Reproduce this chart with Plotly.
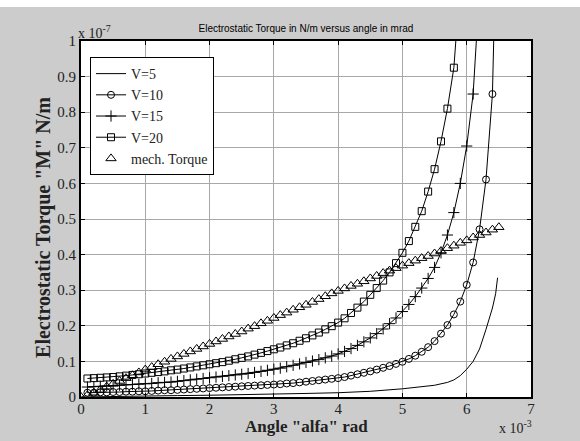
import plotly.graph_objects as go

# ---- data (angle in 1e-3 rad, torque in 1e-7 N/m) ----
v5_angle = [0.0, 0.5, 1.0, 1.5, 2.0, 2.5, 3.0, 3.5, 4.0, 4.5, 5.0, 5.3, 5.5, 5.7, 5.8, 5.9,
            6.0, 6.1, 6.2, 6.3, 6.4, 6.45, 6.48]
v5_torque = [0.0, 0.002, 0.003, 0.004, 0.005, 0.006, 0.008, 0.010, 0.012, 0.016, 0.023, 0.028,
             0.033, 0.041, 0.048, 0.060, 0.078, 0.100, 0.135, 0.190, 0.250, 0.290, 0.335]

v10_angle = [0.1, 0.2, 0.3, 0.4, 0.5, 0.6, 0.7, 0.8, 0.9, 1.0, 1.1, 1.2, 1.3, 1.4, 1.5, 1.6, 1.7,
             1.8, 1.9, 2.0, 2.1, 2.2, 2.3, 2.4, 2.5, 2.6, 2.7, 2.8, 2.9, 3.0, 3.1, 3.2, 3.3, 3.4,
             3.5, 3.6, 3.7, 3.8, 3.9, 4.0, 4.1, 4.2, 4.3, 4.4, 4.5, 4.6, 4.7, 4.8, 4.9, 5.0, 5.1,
             5.2, 5.3, 5.4, 5.5, 5.6, 5.7, 5.8, 5.9, 6.0, 6.1, 6.2, 6.3, 6.4, 6.5]
v10_torque = [0.012, 0.012, 0.013, 0.013, 0.014, 0.014, 0.015, 0.015, 0.016, 0.016, 0.017, 0.018,
              0.019, 0.019, 0.020, 0.021, 0.022, 0.023, 0.024, 0.025, 0.026, 0.027, 0.028, 0.029,
              0.030, 0.031, 0.032, 0.033, 0.034, 0.035, 0.036, 0.038, 0.039, 0.041, 0.043, 0.045,
              0.047, 0.049, 0.051, 0.053, 0.056, 0.060, 0.064, 0.068, 0.072, 0.077, 0.082, 0.087,
              0.093, 0.099, 0.107, 0.116, 0.127, 0.140, 0.157, 0.178, 0.202, 0.232, 0.268, 0.315,
              0.378, 0.471, 0.611, 0.851, 1.600]

v15_angle = [0.1, 0.2, 0.3, 0.4, 0.5, 0.6, 0.7, 0.8, 0.9, 1.0, 1.1, 1.2, 1.3, 1.4, 1.5, 1.6, 1.7,
             1.8, 1.9, 2.0, 2.1, 2.2, 2.3, 2.4, 2.5, 2.6, 2.7, 2.8, 2.9, 3.0, 3.1, 3.2, 3.3, 3.4,
             3.5, 3.6, 3.7, 3.8, 3.9, 4.0, 4.1, 4.2, 4.3, 4.4, 4.5, 4.6, 4.7, 4.8, 4.9, 5.0, 5.1,
             5.2, 5.3, 5.4, 5.5, 5.6, 5.7, 5.8, 5.9, 6.0, 6.1, 6.2]
v15_torque = [0.028, 0.029, 0.030, 0.031, 0.032, 0.033, 0.034, 0.035, 0.036, 0.037, 0.038, 0.040,
              0.041, 0.042, 0.044, 0.046, 0.048, 0.050, 0.052, 0.054, 0.056, 0.058, 0.060, 0.062,
              0.064, 0.066, 0.069, 0.072, 0.075, 0.078, 0.081, 0.085, 0.089, 0.093, 0.097, 0.101,
              0.105, 0.110, 0.115, 0.121, 0.128, 0.136, 0.145, 0.155, 0.166, 0.178, 0.191, 0.206,
              0.222, 0.240, 0.260, 0.282, 0.306, 0.333, 0.364, 0.405, 0.455, 0.518, 0.600, 0.705,
              0.851, 1.150]

v20_angle = [0.1, 0.2, 0.3, 0.4, 0.5, 0.6, 0.7, 0.8, 0.9, 1.0, 1.1, 1.2, 1.3, 1.4, 1.5, 1.6, 1.7,
             1.8, 1.9, 2.0, 2.1, 2.2, 2.3, 2.4, 2.5, 2.6, 2.7, 2.8, 2.9, 3.0, 3.1, 3.2, 3.3, 3.4,
             3.5, 3.6, 3.7, 3.8, 3.9, 4.0, 4.1, 4.2, 4.3, 4.4, 4.5, 4.6, 4.7, 4.8, 4.9, 5.0, 5.1,
             5.2, 5.3, 5.4, 5.5, 5.6, 5.7, 5.8, 5.9]
v20_torque = [0.052, 0.053, 0.054, 0.055, 0.056, 0.058, 0.060, 0.062, 0.064, 0.066, 0.068, 0.070,
              0.072, 0.075, 0.077, 0.080, 0.083, 0.086, 0.089, 0.092, 0.095, 0.098, 0.102, 0.106,
              0.110, 0.114, 0.119, 0.124, 0.129, 0.134, 0.139, 0.145, 0.151, 0.158, 0.165, 0.173,
              0.181, 0.190, 0.199, 0.209, 0.221, 0.236, 0.251, 0.268, 0.287, 0.306, 0.327, 0.350,
              0.376, 0.405, 0.438, 0.478, 0.522, 0.577, 0.640, 0.718, 0.810, 0.925, 1.170]

mech_angle = [0.0, 0.1, 0.2, 0.3, 0.4, 0.5, 0.6, 0.7, 0.8, 0.9, 1.0, 1.1, 1.2, 1.3, 1.4, 1.5, 1.6,
              1.7, 1.8, 1.9, 2.0, 2.1, 2.2, 2.3, 2.4, 2.5, 2.6, 2.7, 2.8, 2.9, 3.0, 3.1, 3.2, 3.3,
              3.4, 3.5, 3.6, 3.7, 3.8, 3.9, 4.0, 4.1, 4.2, 4.3, 4.4, 4.5, 4.6, 4.7, 4.8, 4.9, 5.0,
              5.1, 5.2, 5.3, 5.4, 5.5, 5.6, 5.7, 5.8, 5.9, 6.0, 6.1, 6.2, 6.3, 6.4, 6.5]
mech_torque = [0.000, 0.005, 0.012, 0.020, 0.029, 0.037, 0.045, 0.053, 0.061, 0.069, 0.077, 0.084,
               0.092, 0.099, 0.107, 0.114, 0.121, 0.128, 0.135, 0.142, 0.149, 0.156, 0.163, 0.170,
               0.177, 0.184, 0.192, 0.199, 0.207, 0.214, 0.222, 0.230, 0.237, 0.245, 0.252, 0.259,
               0.267, 0.275, 0.283, 0.291, 0.298, 0.305, 0.312, 0.318, 0.325, 0.333, 0.340, 0.348,
               0.355, 0.362, 0.369, 0.376, 0.383, 0.390, 0.396, 0.403, 0.410, 0.418, 0.425, 0.433,
               0.440, 0.448, 0.455, 0.462, 0.470, 0.477]

x_ticks = [0, 1, 2, 3, 4, 5, 6, 7]
x_tick_labels = ["0", "1", "2", "3", "4", "5", "6", "7"]
y_ticks = [0, 0.1, 0.2, 0.3, 0.4, 0.5, 0.6, 0.7, 0.8, 0.9, 1.0]
y_tick_labels = ["0", "0.1", "0.2", "0.3", "0.4", "0.5", "0.6", "0.7", "0.8", "0.9", "1"]

SERIF = "Liberation Serif"
SANS = "Liberation Sans"

fig = go.Figure()
line_style = dict(color="black", width=1)

fig.add_trace(go.Scatter(x=v5_angle, y=v5_torque, mode="lines", name="V=5", line=line_style))
fig.add_trace(go.Scatter(x=v10_angle, y=v10_torque, mode="lines+markers", name="V=10",
                         line=line_style,
                         marker=dict(symbol="circle-open", size=7, color="black",
                                     line=dict(width=1, color="black"))))
fig.add_trace(go.Scatter(x=v15_angle, y=v15_torque, mode="lines+markers", name="V=15",
                         line=line_style,
                         marker=dict(symbol="cross-thin", size=8, color="black",
                                     line=dict(width=1, color="black"))))
fig.add_trace(go.Scatter(x=v20_angle, y=v20_torque, mode="lines+markers", name="V=20",
                         line=line_style,
                         marker=dict(symbol="square-open", size=7, color="black",
                                     line=dict(width=1, color="black"))))
fig.add_trace(go.Scatter(x=mech_angle, y=mech_torque, mode="markers", name="mech. Torque",
                         marker=dict(symbol="triangle-up-open", size=9, color="black",
                                     line=dict(width=1, color="black"))))

axis_common = dict(
    showline=True, linecolor="black", linewidth=2, mirror="ticks",
    ticks="inside", ticklen=4, tickcolor="black", tickwidth=1,
    showgrid=True, gridcolor="#a8a8a8", gridwidth=1,
    zeroline=False, automargin=False,
    tickfont=dict(family=SERIF, size=15, color="#222222"),
)

fig.update_layout(
    width=580, height=441,
    margin=dict(l=81, r=49, t=41, b=44, autoexpand=False),
    paper_bgcolor="#cccccc",
    plot_bgcolor="white",
    showlegend=True,
    title=dict(text="Electrostatic Torque in N/m versus angle in mrad",
               font=dict(family=SANS, size=10, color="black"),
               x=0.5275, xanchor="center", y=1 - 28 / 441, yanchor="middle"),
    xaxis=dict(range=[0, 7], tickvals=x_ticks, ticktext=x_tick_labels, ticklabelstandoff=-3,
               **axis_common),
    yaxis=dict(range=[0, 1], tickvals=y_ticks, ticktext=y_tick_labels, **axis_common),
    legend=dict(x=0.02, y=0.955, xanchor="left", yanchor="top",
                bgcolor="white", bordercolor="black", borderwidth=1,
                font=dict(family=SERIF, size=14, color="#222222"),
                entrywidth=92, tracegroupgap=0),
    shapes=[dict(type="rect", xref="paper", yref="paper", x0=-0.5, x1=1.5,
                 y0=1 + 34 / 356, y1=1.4, fillcolor="white", line=dict(width=0), layer="below")],
    annotations=[
        dict(text='<b>Angle "alfa" rad</b>', xref="paper", yref="paper", x=0.5, y=-29 / 356,
             xanchor="center", yanchor="middle", showarrow=False,
             font=dict(family=SERIF, size=17, color="#222222")),
        dict(text='<b>Electrostatic Torque "M" N/m</b>', xref="paper", yref="paper",
             x=-37 / 450, y=0.475, textangle=-90,
             xanchor="center", yanchor="middle", showarrow=False,
             font=dict(family=SERIF, size=20, color="#222222")),
        dict(text="x 10<sup>-7</sup>", xref="paper", yref="paper", x=0.0, y=1.0,
             xanchor="left", yanchor="bottom", showarrow=False, xshift=-5, yshift=-2,
             font=dict(family=SERIF, size=14, color="#222222")),
        dict(text="x 10<sup>-3</sup>", xref="paper", yref="paper", x=1.0, y=0.0,
             xanchor="right", yanchor="top", showarrow=False, yshift=-19, xshift=3,
             font=dict(family=SERIF, size=14, color="#222222")),
    ],
)

fig.write_html("out.html", config={"displayModeBar": False},
               post_script="document.body.style.margin='0';")
